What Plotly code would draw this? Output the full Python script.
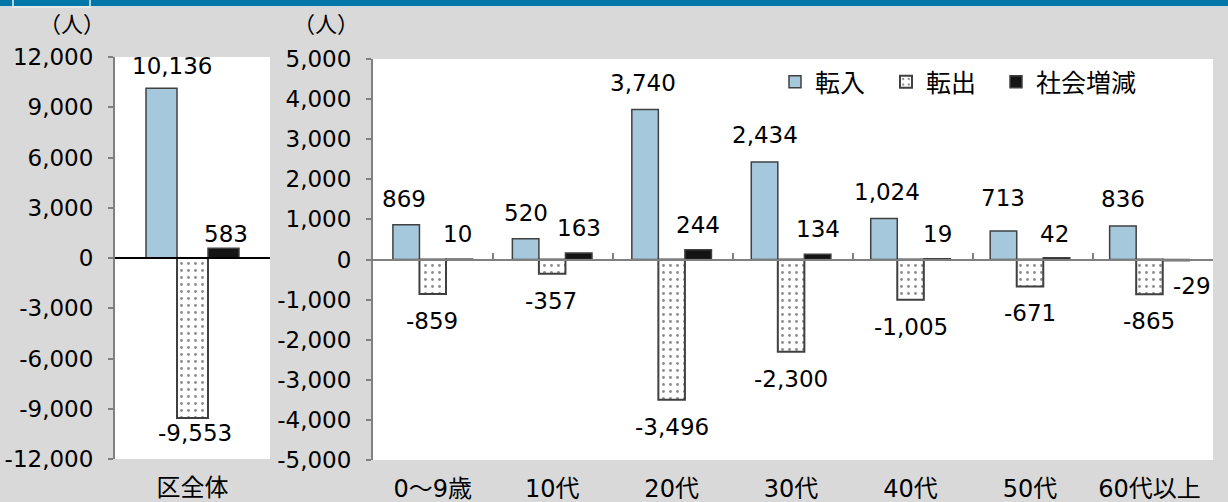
import plotly.graph_objects as go

# ---------------- data ----------------
series_names = ["転入", "転出", "社会増減"]

total_categories = ["区全体"]
total_in = [10136]
total_out = [-9553]
total_net = [583]

age_categories = ["0～9歳", "10代", "20代", "30代", "40代", "50代", "60代以上"]
age_in = [869, 520, 3740, 2434, 1024, 713, 836]
age_out = [-859, -357, -3496, -2300, -1005, -671, -865]
age_net = [10, 163, 244, 134, 19, 42, -29]

left_ticks = list(range(-12000, 12001, 3000))
right_ticks = list(range(-5000, 5001, 1000))
unit_label = "（人）"

# ---------------- styling ----------------
W, H = 1228, 502
FONT = "DejaVu Sans, Noto Sans CJK JP, sans-serif"
FS = 23
AXIS_GRAY = "#808080"
BAR_EDGE = "#404040"


def fx(p):
    return p / W


def fy(p):
    return 1 - p / H


left_xdom = [fx(115), fx(270)]
right_xdom = [fx(373), fx(1213)]
left_ydom = [fy(459), fy(57)]
right_ydom = [fy(460), fy(59)]

styles = [
    dict(color="#a6c8dc", line=dict(color=BAR_EDGE, width=1.5)),
    dict(color="white", line=dict(color=BAR_EDGE, width=2),
         pattern=dict(shape=".", fgcolor="#8c8c8c", bgcolor="white", size=7, solidity=0.13)),
    dict(color="#141414", line=dict(color=BAR_EDGE, width=1.5)),
]
legend_ids = ["legend", "legend2", "legend3"]
legend_left_px = [775, 886, 996]

fig = go.Figure()

# left panel (whole ward)
left_offsets = [-0.3, -0.1, 0.1]
for name, vals, st, off in zip(series_names, [total_in, total_out, total_net], styles, left_offsets):
    fig.add_trace(go.Bar(x=total_categories, y=vals, name=name, marker=st,
                         xaxis="x", yaxis="y", showlegend=False,
                         width=0.2, offset=off, hoverinfo="x+y"))

# right panel (by age)
for name, vals, st, lg in zip(series_names, [age_in, age_out, age_net], styles, legend_ids):
    fig.add_trace(go.Bar(x=age_categories, y=vals, name=name, marker=st,
                         xaxis="x2", yaxis="y2", showlegend=True, legend=lg))

# empty traces so the zero-line axes are drawn
fig.add_trace(go.Scatter(x=[], y=[], xaxis="x3", yaxis="y", showlegend=False))
fig.add_trace(go.Scatter(x=[], y=[], xaxis="x4", yaxis="y2", showlegend=False))

# ---------------- data labels ----------------
annotations = []
lab_font = dict(family=FONT, size=FS, color="black")

left_centers = [-0.2, 0.0, 0.2]
left_shift_x = [10, 2, 2]
left_shift_y = [22, 15, 14]
for vals, c, sx, sy in zip([total_in, total_out, total_net], left_centers, left_shift_x, left_shift_y):
    for i, v in enumerate(vals):
        annotations.append(dict(x=i + c, y=v, xref="x", yref="y", text=f"{v:,}",
                                showarrow=False, font=lab_font,
                                xshift=sx, yshift=sy if v >= 0 else -sy))

bw = (1 - 1 / 3) / 3
right_centers = [-bw, 0.0, bw]
right_shift_x = [
    [-2, 0, -2, 0, 3, 0, 0],
    [-1, -1, 0, 0, 0, 0, 0],
    [-2, 0, 0, 0, 0, -2, 16],
]
right_shift_y = [
    [26, 26, 27, 27, 26, 33, 27],
    [27, 27, 27, 27, 27, 27, 27],
    [25, 25, 25, 25, 25, 24, 25],
]
for vals, c, sxs, sys_ in zip([age_in, age_out, age_net], right_centers, right_shift_x, right_shift_y):
    for i, v in enumerate(vals):
        sy = sys_[i]
        annotations.append(dict(x=i + c, y=v, xref="x2", yref="y2", text=f"{v:,}",
                                showarrow=False, font=lab_font,
                                xshift=sxs[i], yshift=sy if v >= 0 else -sy))

# unit labels
for xc in [72, 326]:
    annotations.append(dict(x=fx(xc), y=fy(25), xref="paper", yref="paper", text=unit_label,
                            showarrow=False, font=dict(family=FONT, size=22, color="black"),
                            xanchor="center", yanchor="middle"))

# ---------------- axes ----------------
tick_font = dict(family=FONT, size=FS, color="black")
cat_font = dict(family=FONT, size=24, color="black")


def yaxis_cfg(dom, ticks, anchor):
    return dict(domain=dom, anchor=anchor, range=[ticks[0], ticks[-1]],
                tickvals=ticks, ticktext=[f"{t:,}" for t in ticks],
                showgrid=False, zeroline=False, showline=True, linecolor=AXIS_GRAY,
                linewidth=2, ticks="outside", ticklen=5, tickwidth=2, tickcolor=AXIS_GRAY,
                tickfont=tick_font, ticklabelstandoff=10, automargin=False, fixedrange=True)


def xaxis_cfg(dom, anchor):
    return dict(domain=dom, anchor=anchor, type="category", showgrid=False, zeroline=False,
                showline=False, ticks="", tickfont=cat_font, ticklabelstandoff=12,
                automargin=False, fixedrange=True)


zero_left = (left_ydom[0] + left_ydom[1]) / 2
zero_right = (right_ydom[0] + right_ydom[1]) / 2

legend_common = dict(orientation="h", y=fy(59), xanchor="left", yanchor="top",
                     bgcolor="rgba(0,0,0,0)", font=dict(family=FONT, size=25, color="black"),
                     itemwidth=30)

fig.update_layout(
    width=W, height=H,
    margin=dict(l=0, r=0, t=0, b=0, autoexpand=False),
    paper_bgcolor="#d9d9d9", plot_bgcolor="white",
    template="none",
    barmode="group", bargap=1 / 3, bargroupgap=0,
    font=dict(family=FONT, size=FS, color="black"),
    xaxis=xaxis_cfg(left_xdom, "y"),
    xaxis2=xaxis_cfg(right_xdom, "y2"),
    yaxis=yaxis_cfg(left_ydom, left_ticks, "x"),
    yaxis2=yaxis_cfg(right_ydom, right_ticks, "x2"),
    xaxis3=dict(overlaying="x", anchor="free", position=zero_left, range=[-0.5, 0.5],
                tickvals=[0.5], ticks="inside", ticklen=6, tickwidth=2, tickcolor="black",
                showline=True, linecolor="black", linewidth=2, showticklabels=False,
                showgrid=False, zeroline=False, fixedrange=True),
    xaxis4=dict(overlaying="x2", anchor="free", position=zero_right,
                range=[-0.5, len(age_categories) - 0.5],
                tickvals=[i + 0.5 for i in range(len(age_categories))],
                ticks="inside", ticklen=6, tickwidth=2, tickcolor=AXIS_GRAY,
                showline=True, linecolor=AXIS_GRAY, linewidth=2, showticklabels=False,
                showgrid=False, zeroline=False, fixedrange=True),
    annotations=annotations,
    shapes=[
        dict(type="rect", xref="paper", yref="paper", x0=0, x1=1, y0=fy(6), y1=1,
             fillcolor="#0077a6", line=dict(width=0), layer="above"),
        dict(type="rect", xref="paper", yref="paper", x0=0, x1=1, y0=fy(7.5), y1=fy(6),
             fillcolor="#c9dbe4", line=dict(width=0), layer="above"),
        dict(type="rect", xref="paper", yref="paper", x0=fx(13), x1=fx(90), y0=fy(7), y1=fy(-2),
             fillcolor="rgba(0,0,0,0)", line=dict(color="#e8f0f0", width=1.5), layer="above"),
    ],
)
for lg, lx in zip(legend_ids, legend_left_px):
    fig.update_layout({lg: dict(legend_common, x=fx(lx))})

fig.write_html("out.html", config={"displayModeBar": False},
               post_script="document.body.style.margin='0';document.body.style.overflow='hidden';")
